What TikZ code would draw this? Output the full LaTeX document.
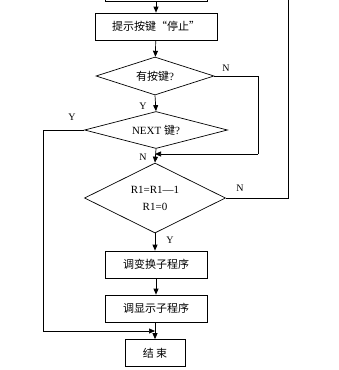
\documentclass[tikz,border=0pt]{standalone}
\usepackage{fontspec}
\setmainfont{Liberation Serif}
\newfontfamily\cjk{Noto Sans CJK SC}
\usetikzlibrary{shapes.geometric,arrows.meta}
\tikzset{
  procbox/.style={draw,line width=0.7pt,minimum height=27pt,inner sep=1pt,font=\cjk\fontsize{11}{12}\selectfont},
  testbox/.style={draw,diamond,line width=0.7pt,inner sep=0pt,aspect=3,font=\fontsize{11}{12}\selectfont},
  flow/.style={line width=0.7pt,-{Triangle[length=6pt,width=5pt]}},
  wire/.style={line width=0.7pt},
  yn/.style={font=\fontsize{10}{11}\selectfont,inner sep=1pt}
}
\begin{document}
\begin{tikzpicture}[x=1pt,y=-1pt]
  \clip (0,0) rectangle (339,370);
  % boxes
  \node[procbox,minimum width=102pt] (prev) at (156,-12) {};
  \node[procbox,minimum width=122pt] (hint) at (156,26.5) {提示按键“停止”\hspace{12pt}};
  \node[testbox,minimum width=118pt,minimum height=38pt] (anykey) at (155,76) {{\cjk 有按键}?\hspace{5pt}};
  \node[testbox,minimum width=143pt,minimum height=37pt] (nextkey) at (156,130) {NEXT {\cjk 键}?\hspace{10pt}};
  \node[testbox,minimum width=141pt,minimum height=70pt,align=center] (count) at (155,198)
    {R1=R1—1\hspace{10pt}\\[5pt]R1=0\hspace{22pt}};
  \node[procbox,minimum width=102pt] (conv) at (156,264.5) {调变换子程序\hspace{12pt}};
  \node[procbox,minimum width=102pt] (disp) at (156,308.5) {调显示子程序\hspace{12pt}};
  \node[procbox,minimum width=60pt] (stop) at (155,353) {结\ 束};

  % merge points
  \coordinate (m1) at (155,154);
  \coordinate (m2) at (155,331);
  \coordinate (up) at (288,-30);

  % main flow
  \draw[flow] (prev.south -| hint.north) -- (hint.north);
  \draw[flow] (hint) -- (anykey);
  \draw[flow] (anykey.south) -- (nextkey.north);
  \draw[flow] (nextkey.south) -- (count.north);
  \draw[flow] (count.south) -- (conv.north -| count.south);
  \draw[flow] (conv) -- (disp);
  \draw[flow] (disp.south -| stop.north) -- (stop.north);

  % loops
  \draw[wire] (anykey.east) -- (258,76) -- (258,154);
  \draw[flow] (258,154) -- (m1);
  \draw[wire] (nextkey.west) -- (43,130) -- (43,331);
  \draw[flow] (43,331) -- (m2);
  \draw[wire] (count.east) -- (up |- count.east) -- (up);

  % labels
  \node[yn] (l1) at (226,68) {N};
  \node[yn] (l2) at (143,106) {Y};
  \node[yn] (l3) at (72,117) {Y};
  \node[yn] (l4) at (143,157) {N};
  \node[yn] (l5) at (240,188) {N};
  \node[yn] (l6) at (170,240) {Y};
\end{tikzpicture}
\end{document}
